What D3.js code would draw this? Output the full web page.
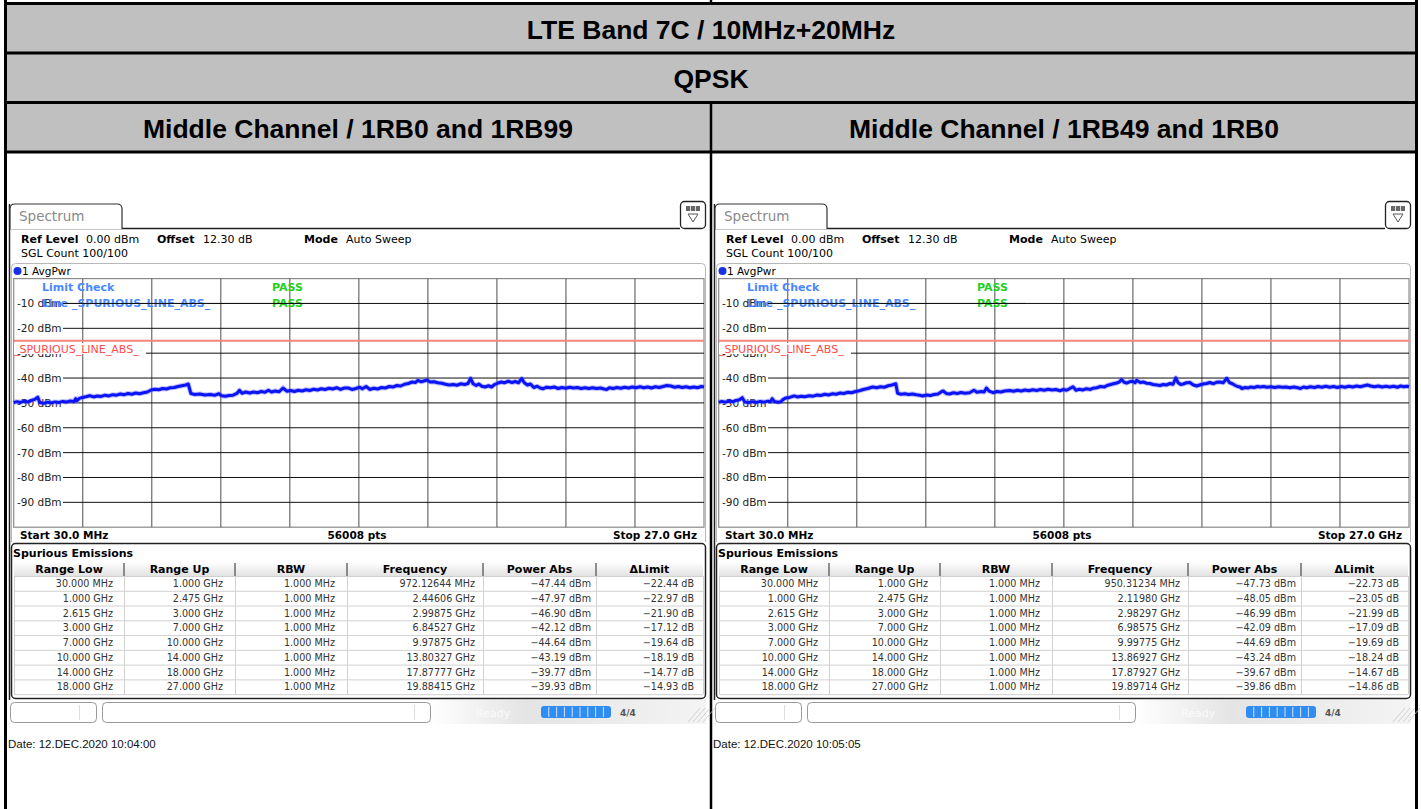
<!DOCTYPE html>
<html>
<head>
<meta charset="utf-8">
<script src="https://cdn.jsdelivr.net/npm/d3@7"></script>
<style>
body { margin: 0; background: #fff; }
svg { display: block; }
text { font-family: "DejaVu Sans", sans-serif; }
</style>
</head>
<body>
<div id="page"></div>
<script>
// ---- data ----
var titleRows = ['LTE Band 7C / 10MHz+20MHz', 'QPSK'];
var panelTitles = ['Middle Channel / 1RB0 and 1RB99', 'Middle Channel / 1RB49 and 1RB0'];
var dateStamps = ['Date: 12.DEC.2020  10:04:00', 'Date: 12.DEC.2020  10:05:05'];

var yTicks = [-10, -20, -30, -40, -50, -60, -70, -80, -90];
var limitLevel = -25;
var xDomain = [0.03, 27];   // GHz
var yDomain = [-100, 0];    // dBm

var colHeaders = ['Range Low', 'Range Up', 'RBW', 'Frequency', 'Power Abs', '\u0394Limit'];
var rangeLow = ['30.000 MHz', '1.000 GHz', '2.615 GHz', '3.000 GHz', '7.000 GHz', '10.000 GHz', '14.000 GHz', '18.000 GHz'];
var rangeUp = ['1.000 GHz', '2.475 GHz', '3.000 GHz', '7.000 GHz', '10.000 GHz', '14.000 GHz', '18.000 GHz', '27.000 GHz'];
var rbw = ['1.000 MHz', '1.000 MHz', '1.000 MHz', '1.000 MHz', '1.000 MHz', '1.000 MHz', '1.000 MHz', '1.000 MHz'];

var peakFreqLeft = ['972.12644 MHz', '2.44606 GHz', '2.99875 GHz', '6.84527 GHz', '9.97875 GHz', '13.80327 GHz', '17.87777 GHz', '19.88415 GHz'];
var peakPowerLeft = [-47.44, -47.97, -46.90, -42.12, -44.64, -43.19, -39.77, -39.93];
var deltaLeft = [-22.44, -22.97, -21.90, -17.12, -19.64, -18.19, -14.77, -14.93];

var peakFreqRight = ['950.31234 MHz', '2.11980 GHz', '2.98297 GHz', '6.98575 GHz', '9.99775 GHz', '13.86927 GHz', '17.87927 GHz', '19.89714 GHz'];
var peakPowerRight = [-47.73, -48.05, -46.99, -42.09, -44.69, -43.24, -39.67, -39.86];
var deltaRight = [-22.73, -23.05, -21.99, -17.09, -19.69, -18.24, -14.67, -14.86];

// trace: [frequency GHz, level dBm]
var traceLeft = [
  [0.03,-49.9],[0.15,-49.5],[0.3,-49.8],[0.45,-49.3],[0.6,-49.6],[0.75,-48.9],[0.85,-48.6],[0.97,-47.7],[1.05,-49.9],[1.2,-50.2],
  [1.35,-49.7],[1.5,-50.0],[1.65,-49.6],[1.8,-49.8],[1.95,-49.4],[2.1,-49.6],[2.25,-49.2],[2.38,-49.5],[2.45,-48.3],[2.5,-49.1],
  [2.6,-48.2],[2.72,-47.8],[2.85,-47.5],[3.0,-47.1],[3.15,-47.6],[3.3,-47.2],[3.45,-47.4],[3.6,-46.9],[3.75,-47.2],[3.9,-46.7],
  [4.05,-46.9],[4.2,-46.4],[4.35,-46.7],[4.5,-46.2],[4.65,-46.5],[4.8,-46.0],[4.95,-46.3],[5.1,-45.9],[5.25,-45.6],[5.4,-44.8],
  [5.55,-44.5],[5.7,-44.7],[5.85,-44.2],[6.0,-44.4],[6.15,-43.9],[6.3,-43.8],[6.45,-43.4],[6.6,-43.1],[6.75,-42.8],[6.85,-42.4],
  [6.95,-46.2],[7.1,-46.6],[7.3,-46.4],[7.5,-46.8],[7.7,-46.6],[7.9,-46.9],[8.05,-46.3],[8.15,-47.1],[8.3,-47.3],[8.45,-47.0],
  [8.6,-46.9],[8.75,-46.2],[8.85,-44.9],[8.95,-46.1],[9.1,-45.6],[9.25,-46.0],[9.4,-45.6],[9.55,-45.9],[9.7,-45.4],[9.85,-45.7],
  [9.98,-44.9],[10.1,-45.6],[10.25,-45.2],[10.4,-45.5],[10.55,-44.0],[10.7,-45.3],[10.85,-45.0],[11.0,-45.4],[11.15,-44.9],[11.3,-45.2],
  [11.45,-44.7],[11.6,-45.0],[11.75,-44.5],[11.9,-44.8],[12.05,-44.3],[12.2,-44.6],[12.35,-44.1],[12.5,-44.4],[12.65,-43.9],[12.8,-44.6],
  [12.95,-44.0],[13.1,-44.0],[13.25,-44.6],[13.4,-44.2],[13.55,-43.7],[13.65,-44.3],[13.8,-43.4],[13.95,-44.6],[14.1,-44.1],[14.25,-44.4],
  [14.4,-43.8],[14.55,-44.0],[14.7,-43.4],[14.85,-43.6],[15.0,-43.0],[15.15,-43.2],[15.3,-42.5],[15.45,-42.2],[15.6,-41.6],[15.72,-41.8],
  [15.82,-40.9],[15.95,-41.5],[16.08,-41.1],[16.18,-40.8],[16.3,-41.6],[16.45,-41.5],[16.6,-41.9],[16.75,-42.1],[16.9,-42.5],[17.05,-42.8],
  [17.2,-42.6],[17.35,-42.9],[17.5,-42.3],[17.65,-42.6],[17.78,-42.2],[17.88,-40.1],[17.98,-42.3],[18.1,-43.0],[18.2,-42.4],[18.32,-43.3],
  [18.45,-43.6],[18.58,-43.1],[18.7,-43.6],[18.82,-42.6],[18.95,-42.0],[19.08,-41.6],[19.2,-41.9],[19.35,-41.3],[19.5,-41.8],[19.62,-41.4],
  [19.75,-41.9],[19.88,-40.2],[19.98,-41.9],[20.1,-42.8],[20.22,-42.4],[20.35,-43.8],[20.48,-43.3],[20.6,-44.0],[20.72,-44.3],[20.85,-43.7],
  [21.0,-43.9],[21.15,-43.6],[21.3,-44.2],[21.45,-43.8],[21.6,-44.1],[21.75,-43.7],[21.9,-44.0],[22.05,-43.8],[22.2,-44.2],[22.35,-43.9],
  [22.5,-44.2],[22.65,-43.9],[22.8,-44.2],[22.95,-44.0],[23.1,-44.4],[23.2,-44.6],[23.3,-43.9],[23.45,-44.2],[23.6,-43.8],[23.75,-44.1],
  [23.9,-43.7],[24.05,-44.0],[24.2,-43.6],[24.35,-43.9],[24.5,-43.5],[24.65,-43.9],[24.8,-43.6],[24.95,-44.0],[25.1,-43.5],[25.25,-43.8],
  [25.4,-43.4],[25.55,-43.0],[25.7,-43.2],[25.85,-43.7],[26.0,-43.4],[26.15,-43.8],[26.3,-43.5],[26.45,-43.9],[26.6,-43.6],[26.75,-43.9],
  [26.9,-43.4],[27.0,-43.6]
];

var traceRight = [
  [0.03,-49.8],[0.15,-49.4],[0.3,-49.7],[0.45,-49.2],[0.6,-49.5],[0.72,-49.0],[0.84,-48.7],[0.95,-47.9],[1.05,-49.6],[1.2,-49.9],
  [1.35,-49.5],[1.5,-49.8],[1.65,-49.4],[1.8,-49.7],[1.95,-49.3],[2.05,-49.5],[2.12,-48.3],[2.2,-49.4],[2.35,-49.7],[2.46,-49.5],
  [2.55,-48.6],[2.66,-48.0],[2.8,-47.8],[2.98,-47.2],[3.1,-47.6],[3.25,-47.3],[3.4,-47.5],[3.57,-47.1],[3.72,-47.3],[3.88,-46.8],
  [4.02,-47.0],[4.18,-46.5],[4.32,-46.8],[4.48,-46.3],[4.62,-46.5],[4.78,-46.0],[4.92,-46.2],[5.08,-45.7],[5.22,-45.9],[5.38,-45.4],
  [5.53,-45.1],[5.68,-44.6],[5.85,-44.2],[6.05,-43.6],[6.2,-43.9],[6.35,-43.5],[6.5,-43.7],[6.65,-43.1],[6.8,-42.8],[6.95,-42.3],
  [7.02,-46.1],[7.15,-46.5],[7.3,-46.3],[7.45,-46.6],[7.6,-46.4],[7.75,-46.7],[7.88,-46.9],[8.0,-47.2],[8.15,-46.8],[8.3,-47.0],
  [8.45,-46.6],[8.6,-46.4],[8.72,-45.6],[8.8,-45.2],[8.92,-46.2],[9.05,-46.4],[9.2,-45.9],[9.35,-46.2],[9.5,-45.8],[9.65,-46.1],
  [9.83,-45.9],[10.0,-44.9],[10.12,-45.7],[10.28,-45.4],[10.4,-45.6],[10.49,-44.0],[10.6,-45.3],[10.75,-45.9],[10.9,-45.4],[11.05,-45.6],
  [11.2,-45.2],[11.4,-45.0],[11.55,-45.3],[11.7,-44.9],[11.85,-45.2],[12.0,-44.8],[12.15,-45.1],[12.3,-44.7],[12.45,-45.0],[12.6,-44.6],
  [12.75,-44.9],[12.9,-44.5],[13.05,-44.8],[13.2,-44.6],[13.36,-45.1],[13.5,-44.6],[13.62,-44.9],[13.75,-44.2],[13.87,-43.5],[13.99,-44.9],
  [14.12,-44.5],[14.25,-44.8],[14.4,-44.3],[14.55,-44.6],[14.66,-44.1],[14.8,-43.9],[14.95,-43.4],[15.1,-43.6],[15.2,-43.0],[15.31,-42.7],
  [15.45,-42.3],[15.58,-42.0],[15.68,-41.6],[15.77,-40.6],[15.87,-41.7],[15.97,-42.0],[16.08,-41.5],[16.2,-41.3],[16.3,-41.9],[16.36,-40.9],
  [16.5,-41.8],[16.62,-41.6],[16.75,-42.1],[16.88,-42.2],[17.0,-42.6],[17.15,-42.8],[17.27,-43.0],[17.4,-42.6],[17.52,-42.8],[17.66,-42.2],
  [17.78,-42.5],[17.89,-39.9],[17.98,-41.9],[18.08,-42.6],[18.18,-42.4],[18.3,-41.9],[18.44,-41.8],[18.56,-42.7],[18.7,-43.2],[18.82,-42.8],
  [18.95,-42.4],[19.09,-42.2],[19.22,-41.8],[19.36,-42.3],[19.48,-41.7],[19.61,-41.6],[19.74,-41.9],[19.88,-40.1],[19.98,-41.8],[20.1,-42.3],
  [20.2,-42.9],[20.3,-43.4],[20.4,-43.6],[20.47,-44.2],[20.6,-43.8],[20.72,-44.0],[20.8,-43.6],[20.95,-43.8],[21.08,-43.4],[21.19,-43.6],
  [21.32,-43.4],[21.45,-43.7],[21.6,-43.5],[21.75,-43.8],[21.9,-43.5],[22.05,-43.7],[22.2,-43.6],[22.35,-43.9],[22.5,-43.6],[22.65,-43.9],
  [22.76,-44.2],[22.88,-43.6],[23.0,-43.9],[23.15,-43.5],[23.3,-43.8],[23.45,-43.4],[23.6,-43.7],[23.75,-43.3],[23.9,-43.7],[24.05,-43.4],
  [24.2,-43.8],[24.35,-43.4],[24.5,-43.7],[24.65,-43.3],[24.8,-43.6],[24.95,-43.2],[25.1,-43.5],[25.25,-43.1],[25.37,-42.8],[25.5,-43.2],
  [25.65,-43.5],[25.8,-43.2],[25.95,-43.6],[26.1,-43.3],[26.25,-43.6],[26.4,-43.3],[26.55,-43.7],[26.67,-43.2],[26.8,-43.5],[26.92,-43.3],
  [27.0,-43.5]
];

// ---- page ----
var W = 1421, H = 809;
var svg = d3.select('#page').append('svg').attr('width', W).attr('height', H);

var defs = svg.append('defs');
var hg = defs.append('linearGradient').attr('id', 'hdrGrad').attr('x1', 0).attr('x2', 0).attr('y1', 0).attr('y2', 1);
hg.append('stop').attr('offset', '0%').attr('stop-color', '#ffffff');
hg.append('stop').attr('offset', '100%').attr('stop-color', '#e2e2e2');
var sg = defs.append('linearGradient').attr('id', 'statGrad').attr('x1', 0).attr('x2', 1).attr('y1', 0).attr('y2', 0);
sg.append('stop').attr('offset', '0%').attr('stop-color', '#ffffff');
sg.append('stop').attr('offset', '35%').attr('stop-color', '#e4e4e4');
sg.append('stop').attr('offset', '100%').attr('stop-color', '#f4f4f4');

// grey header rows of the report table
svg.append('rect').attr('x', 5).attr('y', 4).attr('width', 1412).attr('height', 148).attr('fill', '#c0c0c0');

var rowLines = [3.5, 53, 102.5, 152];
svg.selectAll('.rowline').data(rowLines).enter().append('line')
    .attr('x1', 4).attr('x2', 1418).attr('y1', function (d) { return d; }).attr('y2', function (d) { return d; })
    .attr('stroke', '#000').attr('stroke-width', 3);
svg.append('line').attr('x1', 5.5).attr('x2', 5.5).attr('y1', 0).attr('y2', H).attr('stroke', '#000').attr('stroke-width', 3);
svg.append('line').attr('x1', 1416.5).attr('x2', 1416.5).attr('y1', 0).attr('y2', H).attr('stroke', '#000').attr('stroke-width', 3);
svg.append('line').attr('x1', 711).attr('x2', 711).attr('y1', 0).attr('y2', 4).attr('stroke', '#000').attr('stroke-width', 2.5);
svg.append('line').attr('x1', 711).attr('x2', 711).attr('y1', 102).attr('y2', H).attr('stroke', '#000').attr('stroke-width', 2.5);

svg.selectAll('.title').data(titleRows).enter().append('text')
    .attr('x', 711).attr('y', function (d, i) { return 38.5 + i * 49.5; })
    .attr('text-anchor', 'middle')
    .style('font-family', '"Liberation Sans", Arial, sans-serif')
    .style('font-weight', 'bold').style('font-size', '26.5px')
    .text(function (d) { return d; });
svg.selectAll('.ptitle').data(panelTitles).enter().append('text')
    .attr('x', function (d, i) { return i === 0 ? 358 : 1064; }).attr('y', 137.5)
    .attr('text-anchor', 'middle')
    .style('font-family', '"Liberation Sans", Arial, sans-serif')
    .style('font-weight', 'bold').style('font-size', '26.5px')
    .text(function (d) { return d; });

var txt = function (g, x, y, s, size, opts) {
    opts = opts || {};
    return g.append('text').attr('x', x).attr('y', y).text(s)
        .style('font-size', size + 'px')
        .style('font-weight', opts.bold ? 'bold' : 'normal')
        .attr('fill', opts.fill || '#000')
        .attr('text-anchor', opts.anchor || 'start');
};

var drawPanel = function (ox, trace, freqs, powers, deltas, date) {
    var g = svg.append('g').attr('transform', 'translate(' + ox + ',0)');
    var x = d3.scaleLinear().domain(xDomain).range([13.7, 704]);
    var y = d3.scaleLinear().domain(yDomain).range([527.2, 278.6]);

    // analyzer window edge
    g.append('line').attr('x1', 9.5).attr('x2', 9.5).attr('y1', 204).attr('y2', 700).attr('stroke', '#222').attr('stroke-width', 1.5);

    // Spectrum tab
    g.append('line').attr('x1', 10).attr('x2', 680).attr('y1', 228.5).attr('y2', 228.5).attr('stroke', '#222').attr('stroke-width', 1.3);
    g.append('path').attr('d', 'M10,229 V209 Q10,204 15,204 H117 Q122,204 122,209 V229')
        .attr('fill', '#fff').attr('stroke', '#333').attr('stroke-width', 1.2);
    txt(g, 19, 221, 'Spectrum', 13.5, { fill: '#8a8a8a' });

    // menu icon top right
    g.append('rect').attr('x', 680.5).attr('y', 201.5).attr('width', 25).attr('height', 27).attr('rx', 4)
        .attr('fill', '#fff').attr('stroke', '#222').attr('stroke-width', 1.3);
    g.append('rect').attr('x', 686).attr('y', 206).attr('width', 14).attr('height', 5).attr('fill', '#666');
    [690.5, 695.5].forEach(function (sx) {
        g.append('line').attr('x1', sx).attr('x2', sx).attr('y1', 206).attr('y2', 211).attr('stroke', '#ddd');
    });
    g.append('path').attr('d', 'M688,214 L698,214 L693,222 Z').attr('fill', 'none').attr('stroke', '#555').attr('stroke-width', 1);

    // settings
    txt(g, 21, 243, 'Ref Level', 11, { bold: true });
    txt(g, 86, 243, '0.00 dBm', 11);
    txt(g, 157, 243, 'Offset', 11, { bold: true });
    txt(g, 203, 243, '12.30 dB', 11);
    txt(g, 304, 243, 'Mode', 11, { bold: true });
    txt(g, 346, 243, 'Auto Sweep', 11);
    txt(g, 21, 257, 'SGL Count 100/100', 11);

    // trace window
    g.append('path').attr('d', 'M11.5,542 V267.5 Q11.5,263.5 15.5,263.5 H701.5 Q705.5,263.5 705.5,267.5 V542')
        .attr('fill', 'none').attr('stroke', '#b8b8b8').attr('stroke-width', 1);
    g.append('circle').attr('cx', 17.5).attr('cy', 271).attr('r', 4).attr('fill', '#1830e8');
    txt(g, 22, 275, '1 AvgPwr', 10.5);

    // plot area
    g.append('rect').attr('x', x(xDomain[0])).attr('y', y(0)).attr('width', x(xDomain[1]) - x(xDomain[0]))
        .attr('height', y(-100) - y(0)).attr('fill', '#fff').attr('stroke', '#8a8a8a').attr('stroke-width', 1.2);
    var divs = d3.range(1, 10).map(function (i) { return xDomain[0] + i * (xDomain[1] - xDomain[0]) / 10; });
    g.selectAll('.vgrid').data(divs).enter().append('line')
        .attr('x1', function (d) { return x(d); }).attr('x2', function (d) { return x(d); })
        .attr('y1', y(0)).attr('y2', y(-100)).attr('stroke', '#6a6a6a').attr('stroke-width', 1.2);

    // limit check texts
    txt(g, 42, 291, 'Limit Check', 11, { bold: true, fill: '#4a88ff' });
    txt(g, 272, 291, 'PASS', 11, { bold: true, fill: '#22d022' });
    txt(g, 272, 307, 'PASS', 11, { bold: true, fill: '#22d022' });

    g.selectAll('.hgrid').data(yTicks).enter().append('line')
        .attr('x1', 63).attr('x2', x(xDomain[1]))
        .attr('y1', function (d) { return y(d); }).attr('y2', function (d) { return y(d); })
        .attr('stroke', '#111').attr('stroke-width', 1);
    g.selectAll('.ylab').data(yTicks).enter().append('text')
        .attr('x', 17).attr('y', function (d) { return y(d) + 4; })
        .style('font-size', '10.5px').attr('fill', '#222')
        .text(function (d) { return d + ' dBm'; });
    txt(g, 42, 307, 'Line _SPURIOUS_LINE_ABS_', 11, { bold: true, fill: '#4a88ff' });
    g.append('line').attr('x1', 63).attr('x2', 320).attr('y1', y(-10)).attr('y2', y(-10)).attr('stroke', '#111');

    // limit line
    g.append('line').attr('x1', x(xDomain[0])).attr('x2', x(xDomain[1]))
        .attr('y1', y(limitLevel)).attr('y2', y(limitLevel)).attr('stroke', '#f4857c').attr('stroke-width', 2);
    g.append('rect').attr('x', 14).attr('y', 343).attr('width', 132).attr('height', 11).attr('fill', '#fff');
    txt(g, 14, 353, '_SPURIOUS_LINE_ABS_', 11, { fill: '#ff4a4a' });

    // trace
    var line = d3.line().x(function (d) { return x(d[0]); }).y(function (d) { return y(d[1]); });
    g.append('path').datum(trace).attr('d', line).attr('fill', 'none')
        .attr('stroke', '#5a5aff').attr('stroke-opacity', 0.4).attr('stroke-width', 5).attr('stroke-linejoin', 'round');
    g.append('path').datum(trace).attr('d', line).attr('fill', 'none')
        .attr('stroke', '#0a14f5').attr('stroke-width', 3).attr('stroke-linejoin', 'round');

    // footer of the diagram
    txt(g, 20, 539, 'Start 30.0 MHz', 10.5, { bold: true });
    txt(g, 357, 539, '56008 pts', 10.5, { bold: true, anchor: 'middle' });
    txt(g, 697, 539, 'Stop 27.0 GHz', 10.5, { bold: true, anchor: 'end' });

    // spurious emissions table
    g.append('rect').attr('x', 11.5).attr('y', 543.5).attr('width', 694).attr('height', 155).attr('rx', 4)
        .attr('fill', '#fff').attr('stroke', '#222').attr('stroke-width', 1.5);
    txt(g, 13, 557, 'Spurious Emissions', 11, { bold: true });
    var colEdges = [14, 124, 235, 347, 483, 596, 703];
    var colRight = [113, 223, 335, 475, 591, 694];
    var rowH = 14.77, headTop = 562, headBot = 576;
    g.append('rect').attr('x', 14).attr('y', headTop).attr('width', 689).attr('height', headBot - headTop).attr('fill', 'url(#hdrGrad)');
    g.selectAll('.colsep').data(colEdges.slice(1, 6)).enter().append('line')
        .attr('x1', function (d) { return d; }).attr('x2', function (d) { return d; })
        .attr('y1', headTop + 1).attr('y2', headBot).attr('stroke', '#555').attr('stroke-width', 1.3);
    g.selectAll('.colline').data(colEdges).enter().append('line')
        .attr('x1', function (d) { return d + 0.5; }).attr('x2', function (d) { return d + 0.5; })
        .attr('y1', headBot).attr('y2', headBot + 8 * rowH).attr('stroke', '#d0d0d0');
    g.selectAll('.rowsep').data(d3.range(0, 9)).enter().append('line')
        .attr('x1', 14).attr('x2', 703).attr('y1', function (d) { return headBot + d * rowH + 0.5; })
        .attr('y2', function (d) { return headBot + d * rowH + 0.5; }).attr('stroke', '#d0d0d0');
    g.selectAll('.colhead').data(colHeaders).enter().append('text')
        .attr('x', function (d, i) { return (colEdges[i] + colEdges[i + 1]) / 2; }).attr('y', 573)
        .attr('text-anchor', 'middle').style('font-size', '11px').style('font-weight', 'bold')
        .text(function (d) { return d; });
    var fmt = function (v, unit) { return v.toFixed(2).replace('-', '\u2212') + ' ' + unit; };
    var rows = rangeLow.map(function (d, i) {
        return [d, rangeUp[i], rbw[i], freqs[i], fmt(powers[i], 'dBm'), fmt(deltas[i], 'dB')];
    });
    rows.forEach(function (r, ri) {
        g.selectAll('.cell' + ri).data(r).enter().append('text')
            .attr('x', function (d, ci) { return colRight[ci]; })
            .attr('y', headBot + ri * rowH + 11)
            .attr('text-anchor', 'end').style('font-size', '9.6px').attr('fill', '#333')
            .text(function (d) { return d; });
    });

    // status bar
    g.append('rect').attr('x', 430).attr('y', 700).attr('width', 276).attr('height', 24).attr('fill', 'url(#statGrad)');
    g.append('rect').attr('x', 10.5).attr('y', 702.5).attr('width', 86).attr('height', 20).attr('rx', 4)
        .attr('fill', '#fff').attr('stroke', '#999');
    g.append('line').attr('x1', 79.5).attr('x2', 79.5).attr('y1', 705).attr('y2', 720).attr('stroke', '#ddd');
    g.append('rect').attr('x', 102.5).attr('y', 702.5).attr('width', 328).attr('height', 20).attr('rx', 4)
        .attr('fill', '#fff').attr('stroke', '#999');
    g.append('line').attr('x1', 414.5).attr('x2', 414.5).attr('y1', 705).attr('y2', 720).attr('stroke', '#ddd');
    txt(g, 476, 717, 'Ready', 11, { fill: '#fafafa' });
    g.append('rect').attr('x', 541).attr('y', 706).attr('width', 70).attr('height', 12).attr('rx', 3).attr('fill', '#2f8cf0');
    d3.range(1, 9).forEach(function (i) {
        g.append('line').attr('x1', 541 + i * 7.8).attr('x2', 541 + i * 7.8).attr('y1', 707).attr('y2', 717)
            .attr('stroke', '#cfe4ff').attr('stroke-width', 1);
    });
    txt(g, 620, 716, '4/4', 9, { bold: true, fill: '#555' });
    d3.range(0, 4).forEach(function (i) {
        g.append('line').attr('x1', 688 + i * 5).attr('x2', 700 + i * 5).attr('y1', 722).attr('y2', 708)
            .attr('stroke', '#c8c8c8').attr('stroke-width', 0.8);
    });

    // date stamp
    g.append('text').attr('x', 8).attr('y', 748).text(date)
        .style('font-family', '"Liberation Sans", Arial, sans-serif').style('font-size', '11.5px').attr('fill', '#111');
};

drawPanel(0, traceLeft, peakFreqLeft, peakPowerLeft, deltaLeft, dateStamps[0]);
drawPanel(705, traceRight, peakFreqRight, peakPowerRight, deltaRight, dateStamps[1]);
</script>
</body>
</html>
